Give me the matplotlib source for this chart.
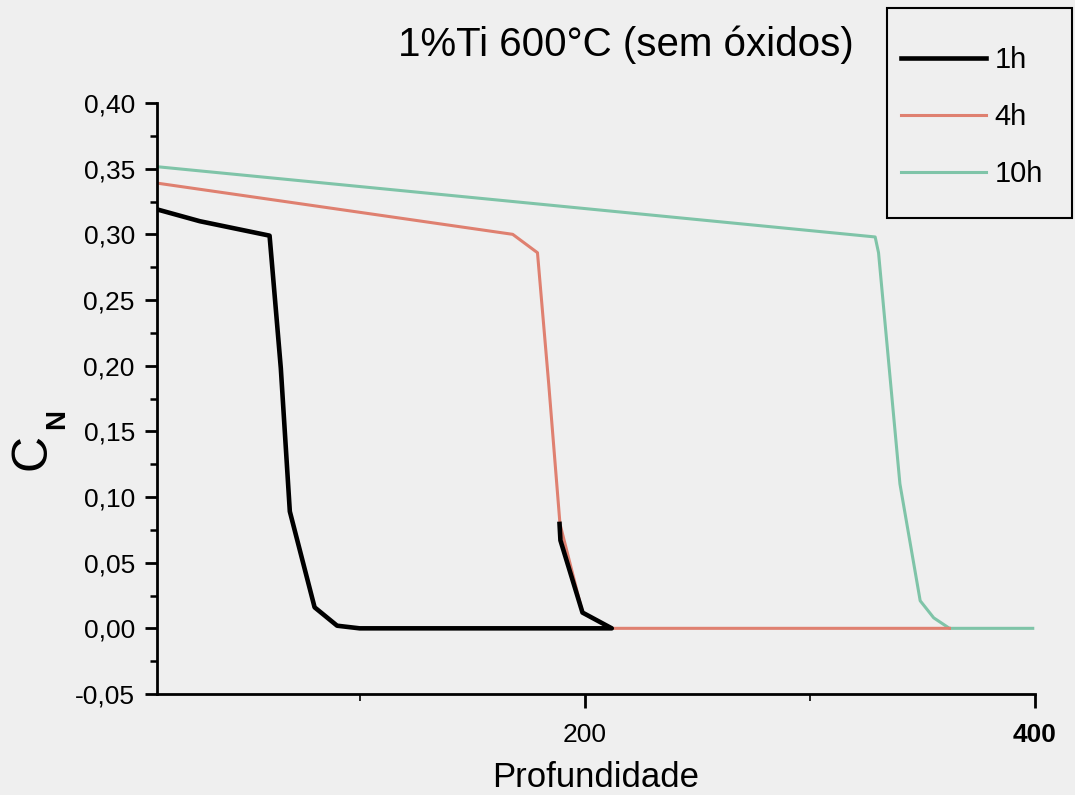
import matplotlib
matplotlib.use('Agg')
import matplotlib.pyplot as plt
from matplotlib.ticker import MultipleLocator, FixedLocator, FuncFormatter
from matplotlib.patches import Rectangle

plt.rcParams['font.family'] = ['Liberation Sans', 'DejaVu Sans']

# 1h curve (the tail goes back up along the 4h drop, as in the original)
prof_1h = [10, 29, 60, 61, 65, 69, 80, 90, 100, 212, 199, 189.2, 188.8]
cn_1h = [0.319, 0.310, 0.299, 0.279, 0.198, 0.089, 0.016, 0.002, 0.0, 0.0, 0.012, 0.067, 0.0795]

# 4h curve
prof_4h = [10, 168, 179, 184, 189, 199, 212, 362]
cn_4h = [0.339, 0.300, 0.286, 0.186, 0.0795, 0.012, 0.0, 0.0]

# 10h curve
prof_10h = [10, 329, 330.5, 340, 349, 355, 362, 399]
cn_10h = [0.3515, 0.298, 0.286, 0.110, 0.021, 0.008, 0.0, 0.0]

xticks = [200, 400]
xtick_labels = ['200', '400']

fundo = '#efefef'
fig = plt.figure(figsize=(10.75, 7.95), dpi=100, facecolor=fundo)
ax = fig.add_axes([157 / 1075, 101 / 795, 878 / 1075, 591 / 795])
ax.set_facecolor(fundo)

ax.plot(prof_10h, cn_10h, color='#7fc4a8', lw=2.2, label='10h', zorder=2)
ax.plot(prof_4h, cn_4h, color='#df8070', lw=2.2, label='4h', zorder=2)
ax.plot(prof_1h, cn_1h, color='black', lw=3.3, label='1h', zorder=3)

ax.set_xlim(10, 400)
ax.set_ylim(-0.05, 0.40)

for s in ['top', 'right']:
    ax.spines[s].set_visible(False)
for s in ['left', 'bottom']:
    ax.spines[s].set_linewidth(2)

ax.yaxis.set_major_locator(MultipleLocator(0.05))
ax.yaxis.set_minor_locator(MultipleLocator(0.025))
ax.yaxis.set_major_formatter(FuncFormatter(lambda v, _: f'{v:.2f}'.replace('.', ',')))
ax.set_xticks(xticks, labels=xtick_labels)
ax.xaxis.set_minor_locator(FixedLocator([100, 300]))

ax.tick_params(axis='y', which='major', length=9, width=2, pad=7, labelsize=19)
ax.tick_params(axis='y', which='minor', length=5, width=1.8)
ax.tick_params(axis='x', which='major', length=10, width=2, pad=11, labelsize=19)
ax.tick_params(axis='x', which='minor', length=5, width=1.2)
for t in ax.get_xticklabels():
    if t.get_text() == '400':
        t.set_fontweight('bold')

ax.set_xlabel('Profundidade', fontsize=25)
ax.xaxis.set_label_coords(0.5, -0.142)
ax.xaxis.label.set_verticalalignment('center')

# y label C with subscript N
fig.text(32 / 1075, 1 - 452 / 795, 'C', fontsize=36, rotation=90, ha='center', va='center')
fig.text(57 / 1075, 1 - 419 / 795, 'N', fontsize=20, fontweight='bold', rotation=90,
         ha='center', va='center')

fig.text(626 / 1075, 1 - 45 / 795, '1%Ti 600°C (sem óxidos)', fontsize=29,
         ha='center', va='center')

# legend with square frame
h, l = ax.get_legend_handles_labels()
fig.legend(h[::-1], l[::-1], loc='upper left', bbox_to_anchor=(901 / 1075, 1 - 46 / 795),
           frameon=False, fontsize=21, handlelength=2.9, handletextpad=0.3,
           labelspacing=1.0, borderpad=0, borderaxespad=0)
fig.add_artist(Rectangle((887 / 1075, 1 - 218 / 795), 185 / 1075, 210 / 795,
                         transform=fig.transFigure, fill=False, ec='black', lw=1.5))

fig.savefig('out.png', dpi=100, facecolor=fundo)
